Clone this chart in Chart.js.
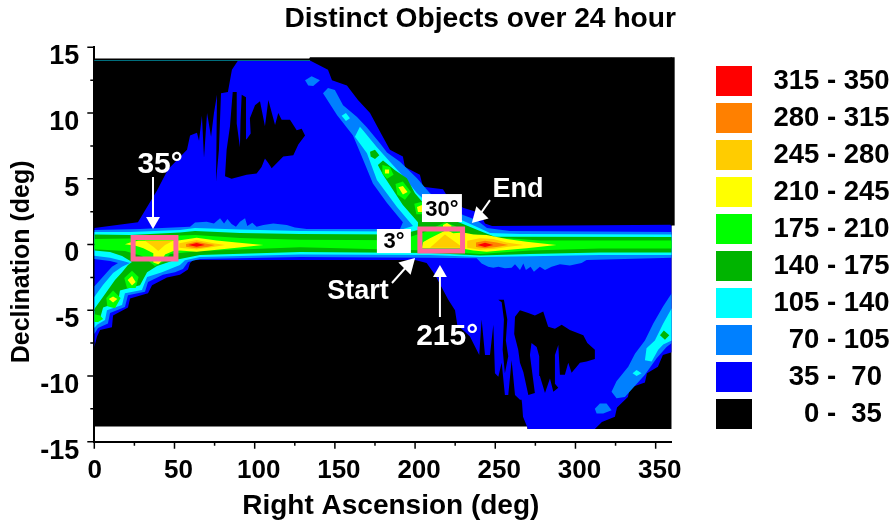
<!DOCTYPE html>
<html>
<head>
<meta charset="utf-8">
<style>html,body{margin:0;padding:0;background:#fff}canvas{display:block}</style>
<script src="https://cdn.jsdelivr.net/npm/chart.js@4"></script>
</head>
<body>
<canvas id="c" width="894" height="525"></canvas>
<script>
const legendLabels = [" 315 - 350"," 280 - 315"," 245 - 280"," 210 - 245"," 175 - 210"," 140 - 175"," 105 - 140","   70 - 105","   35 -  70","     0 -  35"];
const legendColors = ["#ff0000","#ff8000","#ffcc00","#ffff00","#00ff00","#00b400","#00ffff","#0080ff","#0000ff","#000000"];

// Contours are [right ascension, declination] outlines.
const level0 = [[0,14.15],[134,14.15],[134.5,14.25],[362,14.25],[362,1.45],[360,1.45],[360,-14.03],[270,-14.03],[270,-13.85],[0,-13.85]];
const level35Main = [[0,1.25],[27.2,1.7],[39.1,4.1],[45.9,5.7],[57.8,7.2],[59.7,8.3],[64,8.5],[65.3,7.9],[67.1,9.8],[68.4,6.6],[70.3,10],[72.8,8.2],[74.6,10],[76.5,11.4],[75.9,4.8],[77.7,7.2],[79,11.5],[83.3,11.6],[85.8,13.3],[89.6,14],[134.5,14],[145.7,13.3],[148.2,12.5],[157.5,12.1],[164.4,11],[171.9,10],[178.1,8.6],[184.3,7.2],[192.4,6.7],[193.7,5.9],[203,5.3],[204.9,4.4],[217.4,4.2],[220.5,3.6],[229.9,2.8],[240.5,2.4],[243.6,1.6],[248,1.4],[360,1.5],[360,-8.2],[354.5,-8.4],[351.4,-9.3],[344.6,-9.8],[343.3,-10.5],[334,-10.9],[332.7,-11.6],[325.9,-12.4],[324.6,-13.1],[316.5,-13.5],[312.1,-14.03],[270.4,-14.03],[267.3,-13.1],[266.7,-12.1],[266.4,-11.8],[265.4,-11.8],[262.3,-11.45],[260.2,-8.8],[258.1,-11.45],[256,-11.45],[254,-9],[251.9,-10.05],[249.8,-9.8],[248.8,-6.1],[246.7,-8.4],[243.6,-8.4],[241.5,-5.7],[240,-8.4],[234.2,-7],[226.3,-6.1],[224.9,-5],[220.7,-4.2],[212.4,-2.3],[207.2,-1.4],[200,-1.18],[61.6,-1.18],[59.7,-1.4],[58.4,-1.9],[53.4,-2.3],[45.3,-2.5],[36,-3.1],[33.5,-3.7],[22.3,-4.1],[21,-4.8],[11.7,-5.4],[11,-6.3],[3.6,-6.5],[1.7,-7],[0,-7.8]];
const holeNorth = [[81.5,5.2],[85.6,5],[95,5.3],[101.2,5.4],[104.3,5.9],[106.4,6.55],[108.5,6.2],[110.6,5.8],[117.8,6.7],[124.1,6.8],[127.2,7.6],[131.4,8.3],[129.3,8.8],[126.2,8.7],[122,9.5],[116.8,9.5],[114.7,10],[112.7,9.1],[108.5,11],[106.4,9],[103.3,10.9],[100.2,10.6],[97,9.6],[97.5,8.45],[95,8],[94.6,11.2],[91.9,11.4],[91.2,9.5],[90.8,7.4],[88.8,9.2],[88.8,11.6],[86.3,11.6],[84.6,9],[82.5,7.2]];
const holeSouth = [[262.3,-5.5],[265.4,-5],[270.6,-5.2],[274.7,-5.4],[279.9,-5.1],[283,-6.25],[287.2,-6.4],[291.4,-6.1],[296.5,-6.5],[304.9,-6.9],[307.4,-7.5],[312.1,-8],[312.1,-8.7],[306.9,-8.9],[302.8,-9],[297.6,-9.75],[295.5,-9],[293.4,-9.9],[290.3,-9.9],[289.3,-7.65],[287.2,-8.4],[287.2,-10.6],[289.3,-10.9],[286.2,-11.2],[284.1,-10.2],[281,-11.3],[277.8,-10],[277.4,-8.5],[275.8,-7.8],[272.6,-7.5],[271.6,-8.4],[274.7,-11.3],[270.6,-11.45],[267.5,-9.7],[265.4,-9],[264.3,-8],[261.8,-6.8]];
const holeSouthSpike = [[251.9,-4.2],[255.4,-4.2],[257.5,-5.7],[256.6,-7.3],[258.1,-8.5],[256,-9.8],[254.6,-8],[255.4,-5.7],[254,-4.4]];

const level70Main = [[0,1.1],[28.5,1.18],[59.7,1.35],[62.8,1.68],[70,1.73],[74.6,1.6],[78.4,2],[80.9,1.6],[83,1.94],[85.6,1.56],[88.3,1.35],[90.8,1.73],[94,2],[95.4,1.4],[98.5,1.66],[101.2,1.35],[105.4,1.48],[111.6,1.6],[120,1.48],[125.1,1.3],[132.4,1.18],[190.6,1.18],[192.4,1.7],[182.5,3.15],[173.7,4.65],[166.9,6.65],[161.3,8.3],[151.3,9.85],[142.6,11.5],[145.7,11.9],[150,11.75],[155.1,10.6],[163.8,9.7],[170,8.9],[178.1,7.7],[182.5,7],[190.6,6.3],[201.2,5.05],[209.3,3.9],[218.7,3.15],[229.9,2.25],[238.6,1.85],[244.8,1.25],[259.1,1.03],[360,0.95],[360,-1],[306.9,-1.18],[303.8,-1.4],[296.5,-1.6],[290.3,-1.5],[285.1,-1.7],[281,-1.94],[277.8,-1.7],[274.1,-2.07],[272,-1.7],[269.1,-1.94],[267.5,-1.44],[265.4,-1.94],[262.3,-1.5],[260.2,-1.76],[256,-1.8],[251.9,-1.7],[248.8,-1.76],[245.6,-1.7],[241.5,-1.44],[238.4,-1.05],[209.2,-1],[128.3,-0.95],[65.9,-1.1],[58.4,-1.33],[55.3,-1.86],[50.3,-2.1],[42.8,-2.3],[33.5,-2.85],[31.6,-3.6],[21,-3.85],[19.1,-4.75],[9.8,-5.2],[8.5,-6],[2.3,-6.35],[0,-6.8],[0,-3.2],[5.4,-2.45],[11,-1.7],[14.8,-1.4],[9.8,-1.25],[0,-1.1]];
const level70NorthIsle = [[131.4,12.5],[135.5,12.8],[140.7,12.5],[136.5,12.05],[133.4,12.1]];
const level70EastArm = [[360,-3.7],[354.7,-4.7],[348.5,-6],[343.3,-7.3],[337.1,-8.3],[332.9,-9.3],[325.6,-10.4],[322.5,-11.2],[325.6,-11.7],[330.8,-11.6],[336,-10.9],[343.3,-9.9],[350.6,-8.65],[356.8,-7.8],[360,-7.5]];
const level70SouthIsle = [[312.1,-12.5],[315.2,-12.1],[319.4,-12.1],[322.5,-12.6],[317.3,-12.85],[313.2,-12.85]];

const level105Main = [[0,0.95],[22.3,0.95],[53.4,1.1],[62.8,1.25],[90.8,1.14],[128.3,1.03],[187.4,0.99],[198.7,1.4],[188.7,2.85],[176.2,4.9],[170,6.95],[162.5,8.2],[165.6,8.95],[167.5,8.7],[176.2,7.4],[184.3,6.3],[193.7,5.05],[201.2,3.9],[209.3,3],[218.7,2.5],[229.9,1.8],[238.6,1.33],[246.7,0.87],[265.4,0.8],[360,0.76],[360,-0.8],[315.3,-0.8],[271.6,-0.9],[240.5,-0.95],[209.3,-0.8],[128.3,-0.76],[65.9,-0.95],[56.5,-1.2],[53.4,-1.56],[42.2,-2.1],[32.9,-2.47],[29.7,-3.46],[19.1,-3.7],[17.3,-4.6],[7.9,-5],[6.7,-5.74],[1.7,-6.1],[0,-6.35],[0,-4],[5.4,-3.08],[11.7,-2.17],[17.3,-1.7],[22.3,-1.4],[17.9,-1.25],[9.8,-1],[0,-0.85]];
const level105NorthIsle = [[154.2,9.8],[156.9,10],[159.4,9.6],[156.9,9.4]];
const level105EastArm = [[360,-4.85],[354.7,-6],[349.5,-7.3],[344.3,-7.9],[343.3,-8.8],[347.5,-8.9],[351.6,-8],[354.7,-7.6],[360,-7.3]];
const level105SouthIsle = [[335.6,-9.8],[338.1,-9.55],[341.2,-9.8],[338.1,-10]];

const level140Main = [[0,0.76],[22.3,0.72],[53.4,0.91],[62.8,1.03],[90.8,0.87],[128.3,0.8],[190.6,0.76],[201.8,1.1],[201.8,1.7],[192.4,3],[180,5.3],[176.8,6.05],[180,6.4],[187.5,5.65],[194.9,5.05],[199.9,3.9],[206.2,3],[218.7,2.1],[229.9,1.56],[240.5,1.03],[249.8,0.6],[360,0.57],[360,-0.6],[315.3,-0.6],[271.6,-0.72],[240.5,-0.84],[209.3,-0.65],[128.3,-0.57],[65.9,-0.8],[50.3,-1.18],[39.1,-1.63],[32.9,-2.1],[28.5,-3.1],[16,-3.5],[14.8,-4.4],[5.5,-4.8],[3.6,-5.6],[0,-5.9],[0,-4.9],[5.4,-4],[12.9,-2.7],[17.3,-2.1],[21,-1.56],[23.5,-1.33],[17.3,-0.87],[9.8,-0.57],[0,-0.46]];
const level140NorthIsle = [[171.9,7.06],[175,7.2],[177.7,6.8],[175,6.5],[172.3,6.7]];
const level140EastIsle = [[352.7,-6.9],[355.1,-6.55],[358.5,-6.9],[355.8,-7.25]];

const level175Main = [[0,0.42],[22.3,0.46],[53.4,0.68],[62.8,0.72],[90.8,0.5],[128.3,0.36],[190.6,0.32],[206.2,0.95],[218.7,1.7],[224.9,1.4],[231.1,0.87],[246.7,0.57],[277.8,0.3],[360,0.3],[360,-0.3],[315.3,-0.3],[271.6,-0.45],[240.5,-0.72],[209.3,-0.45],[128.3,-0.2],[65.9,-0.5],[47.2,-0.72],[42.8,-1.33],[37.8,-1.63],[34.7,-1.33],[29.7,-0.87],[19.1,-0.5],[0,-0.36]];
const level175WestA = [[18.7,-2.55],[23.5,-2],[27.6,-2.47],[25.8,-3.3],[20.4,-3.3]];
const level175WestB = [[7.5,-4.07],[11.7,-3.5],[16.4,-4.07],[12.9,-4.85],[8.1,-4.7]];
const level175WestC = [[0,-5.3],[3.6,-5.4],[5.5,-5.67],[2.3,-5.9],[0,-5.9]];
const level175NorthA = [[179.6,6.05],[184.3,5.9],[186.6,5.3],[182.5,5],[179.6,5.4]];
const level175NorthB = [[187.8,4.6],[192.4,4.8],[197.4,4],[193.7,3.4],[188.9,3.8]];
const level175NorthC = [[199.5,3.1],[204.3,3.25],[204.3,2.3],[200.8,2.3]];

const level210West = [[19.1,0.03],[23.3,0.2],[27.4,0.29],[52.4,0.31],[63.8,0.52],[76.3,0.31],[88.8,0.16],[105.4,-0.04],[88.8,-0.24],[76.3,-0.4],[63.8,-0.55],[53.4,-0.45],[49.3,-0.5],[44.1,-0.75],[42,-1.26],[39.9,-1.51],[36.8,-1.36],[36.8,-0.67],[30.6,-0.29],[25.8,-0.09]];
const level210East = [[205.1,0.2],[209.3,0.47],[215.5,0.85],[219.7,1.1],[223.8,0.85],[230,0.92],[236.3,0.77],[244.6,0.72],[257.1,0.42],[269.5,0.21],[288.2,-0.04],[269.5,-0.29],[257.1,-0.42],[244.6,-0.55],[236.3,-0.45],[228,-0.29],[204.1,-0.29]];
const level210WestA = [[20.8,-2.7],[23.5,-2.4],[25.8,-2.85],[23.5,-3.12]];
const level210WestB = [[9,-4.15],[11.7,-3.95],[14.4,-4.15],[11.7,-4.42]];
const level210NorthA = [[181.2,5.7],[183.8,5.7],[183.8,5.4],[181.2,5.4]];
const level210NorthB = [[189.6,4.35],[192.4,4.45],[195.3,4],[192.4,3.8]];
const level210NorthC = [[201.2,2.85],[204.3,3],[204.3,2.47],[201.8,2.47]];
const level210NorthD = [[217.4,1.48],[219.9,1.63],[223,1.4],[221.7,1.3],[217.4,1.3]];

const level245WestBox = [[31.6,0.29],[49.3,0.29],[44.1,-0.04],[39.9,-0.5],[36.8,-0.17]];
const level245WestPeak = [[53,0.09],[63.8,0.34],[74.2,0.09],[81.5,-0.04],[74.2,-0.19],[63.8,-0.37],[53,-0.24]];
const level245EastBox = [[209.3,-0.25],[218.6,0.77],[230,-0.25]];
const level245EastPeak = [[232.5,0.29],[240.4,0.47],[248.8,0.42],[257.1,0.16],[267.5,-0.04],[257.1,-0.19],[248.8,-0.35],[240.4,-0.4],[232.5,-0.24]];
const level280West = [[57.2,0.04],[63.8,0.21],[71.1,0.04],[75.2,-0.04],[71.1,-0.17],[63.8,-0.29],[57.2,-0.17]];
const level280East = [[238,0.16],[243.6,0.29],[250.8,0.16],[258.1,-0.04],[250.8,-0.19],[243.6,-0.29],[238,-0.19]];
const level315West = [[58.6,-0.04],[63.8,0.11],[69,-0.04],[63.8,-0.17]];
const level315East = [[238.8,-0.04],[243.6,0.14],[248.8,-0.04],[243.6,-0.19]];

const edgeLine = [[0,14],[134.5,14]];
const edgeRight = [[360.6,14.25],[360.6,1.45]];
const boxStart = [[24.2,0.53],[50.9,0.53],[50.9,-1.1],[24.2,-1.1],[24.2,0.53]];
const boxEnd = [[203,1.18],[229.6,1.18],[229.6,-0.5],[203,-0.5],[203,1.18]];
const arrow35 = [[36.6,5.13],[36.6,1.79]];
const arrow215 = [[215.5,-5.51],[215.5,-2.17]];
const arrowStart = [[185.6,-2.93],[195.6,-1.56]];
const arrowEnd = [[246.7,3.38],[239.8,2.17]];

const fills = [
  [level0,"#000000"],
  [level35Main,"#0000ff"],
  [holeNorth,"#000000"],[holeSouth,"#000000"],[holeSouthSpike,"#000000"],
  [level70Main,"#0080ff"],[level70NorthIsle,"#0080ff"],[level70EastArm,"#0080ff"],[level70SouthIsle,"#0080ff"],
  [level105Main,"#00ffff"],[level105NorthIsle,"#00ffff"],[level105EastArm,"#00ffff"],[level105SouthIsle,"#00ffff"],
  [level140Main,"#00b400"],[level140NorthIsle,"#00b400"],[level140EastIsle,"#00b400"],
  [level175Main,"#00ff00"],[level175WestA,"#00ff00"],[level175WestB,"#00ff00"],[level175WestC,"#00ff00"],[level175NorthA,"#00ff00"],[level175NorthB,"#00ff00"],[level175NorthC,"#00ff00"],
  [level210West,"#ffff00"],[level210East,"#ffff00"],[level210WestA,"#ffff00"],[level210WestB,"#ffff00"],[level210NorthA,"#ffff00"],[level210NorthB,"#ffff00"],[level210NorthC,"#ffff00"],[level210NorthD,"#ffff00"],
  [level245WestBox,"#ffcc00"],[level245WestPeak,"#ffcc00"],[level245EastBox,"#ffcc00"],[level245EastPeak,"#ffcc00"],
  [level280West,"#ff8000"],[level280East,"#ff8000"],
  [level315West,"#ff0000"],[level315East,"#ff0000"]
];
const toXY = p => p.map(q => ({x:q[0], y:q[1]}));
const painted = fills.map(([pts,color]) => ({
  data: toXY(pts), showLine:true, fill:'shape', backgroundColor:color, borderWidth:0, borderColor:color,
  pointRadius:0, tension:0, clip:false
}));
const outline = (pts,color,w,cap) => ({data:toXY(pts),showLine:true,fill:false,borderColor:color,borderWidth:w,pointRadius:0,tension:0,borderJoinStyle:'miter',borderCapStyle:cap,clip:false});
const arrow = (pts,rot,r) => ({data:toXY(pts),showLine:true,fill:false,borderColor:"#ffffff",borderWidth:2,tension:0,
  pointRadius:[0,r],pointStyle:'triangle',pointRotation:rot,pointBackgroundColor:"#ffffff",pointBorderColor:"#ffffff",pointBorderWidth:0});
const overlays = [
  outline(edgeRight,"#000000",4,'butt'),
  outline(edgeLine,"#00707f",1,'butt'),
  outline(boxStart,"#ff6699",5,'square'), outline(boxEnd,"#ff6699",5,'square'),
  arrow(arrow35,180,8), arrow(arrow215,0,8), arrow(arrowStart,45,10), arrow(arrowEnd,225,10)
];

const notes = [
  {text:"35°",ra:41,dec:6.1,size:30,color:"#ffffff"},
  {text:"215°",ra:220,dec:-7.02,size:30,color:"#ffffff"},
  {text:"Start",ra:164.4,dec:-3.6,size:27,color:"#ffffff"},
  {text:"End",ra:264.1,dec:4.15,size:27,color:"#ffffff"},
  {text:"3°",ra:186.8,dec:0.2,size:22,color:"#000000",box:[176.2,1.18,197.4,-0.65]},
  {text:"30°",ra:216.7,dec:2.65,size:22,color:"#000000",box:[204.3,3.84,229.2,1.71]}
];
const FONT = '"Liberation Sans", Arial, sans-serif';

const frame = {
  id:'frame',
  beforeLayout(chart){
    const lg = chart.legend;
    if(lg && !lg._fixed){ const f = lg.fit; lg.fit = function(){ f.call(this); this.width = 222.3; }; lg._fixed = true; }
  },
  afterLayout(chart){
    const lg = chart.legend; lg.left = 709; lg.top = 59; lg.bottom = 470;
    const t = chart.titleBlock; t.left += 4.3; t.right += 4.3;
  },
  afterDatasetsDraw(chart){
    const {ctx,scales:{x,y}} = chart;
    ctx.save();
    for(const n of notes){
      if(n.box){
        const l=x.getPixelForValue(n.box[0]),t=y.getPixelForValue(n.box[1]),r=x.getPixelForValue(n.box[2]),b=y.getPixelForValue(n.box[3]);
        ctx.fillStyle="#ffffff"; ctx.fillRect(l,t,r-l,b-t);
      }
      ctx.fillStyle=n.color; ctx.font=`bold ${n.size}px ${FONT}`; ctx.textAlign='center'; ctx.textBaseline='middle';
      ctx.fillText(n.text,x.getPixelForValue(n.ra),y.getPixelForValue(n.dec));
    }
    ctx.restore();
  },
  afterDraw(chart){
    const {ctx,scales:{x,y}} = chart;
    ctx.save(); ctx.strokeStyle="#000"; ctx.lineWidth=1.5; ctx.beginPath();
    for(const t of x.ticks){ const p=x.getPixelForValue(t.value), L=t.value%50===0?7:4; ctx.moveTo(p,x.top); ctx.lineTo(p,x.top+L); }
    for(const t of y.ticks){ const p=y.getPixelForValue(t.value), L=t.value%5===0?7:4; ctx.moveTo(y.right,p); ctx.lineTo(y.right-L,p); }
    ctx.stroke(); ctx.restore();
  }
};

new Chart(document.getElementById('c'),{
  type:'scatter',
  data:{datasets:[...painted,...overlays].reverse()},
  plugins:[frame],
  options:{
    responsive:false, animation:false, events:[],
    layout:{padding:0,autoPadding:false},
    scales:{
      x:{type:'linear',min:0,max:360,
        grid:{drawOnChartArea:false,drawTicks:false},border:{color:'#000',width:2},
        afterFit(s){s.height=83.3;},
        ticks:{stepSize:25,includeBounds:false,autoSkip:false,maxRotation:0,minRotation:0,padding:14,labelOffset:4,color:'#000',
          font:{family:FONT,weight:'bold',size:26},callback:v=>v===0?'0 ':(v%50===0?String(v):'')},
        title:{display:true,text:'  Right Ascension (deg)',color:'#000',font:{family:FONT,weight:'bold',size:28},padding:{top:0,bottom:2}}},
      y:{type:'linear',min:-15,max:15,
        grid:{drawOnChartArea:false,drawTicks:false},border:{color:'#000',width:2},
        afterFit(s){s.width=94.3;},
        ticks:{stepSize:2.5,includeBounds:true,autoSkip:false,padding:15,labelOffset:9.5,color:'#000',
          font:{family:FONT,weight:'bold',size:27},callback:v=>v%5===0?String(v):''},
        title:{display:true,text:'Declination (deg)     ',color:'#000',font:{family:FONT,weight:'bold',size:25},padding:{top:7,bottom:0}}}
    },
    plugins:{
      tooltip:{enabled:false},
      title:{display:true,text:'Distinct Objects over 24 hour',fullSize:false,align:'end',color:'#000',
        font:{family:FONT,weight:'bold',size:28.2},padding:{top:2,bottom:11.5}},
      legend:{display:true,position:'right',align:'start',
        labels:{boxWidth:36,boxHeight:30,padding:7,color:'#000',font:{family:FONT,weight:'bold',size:27.5,lineHeight:1},
          generateLabels:()=>legendLabels.map((t,i)=>({text:t,fillStyle:legendColors[i],strokeStyle:legendColors[i],lineWidth:0,hidden:false,index:i}))}}
    }
  }
});
</script>
</body>
</html>
